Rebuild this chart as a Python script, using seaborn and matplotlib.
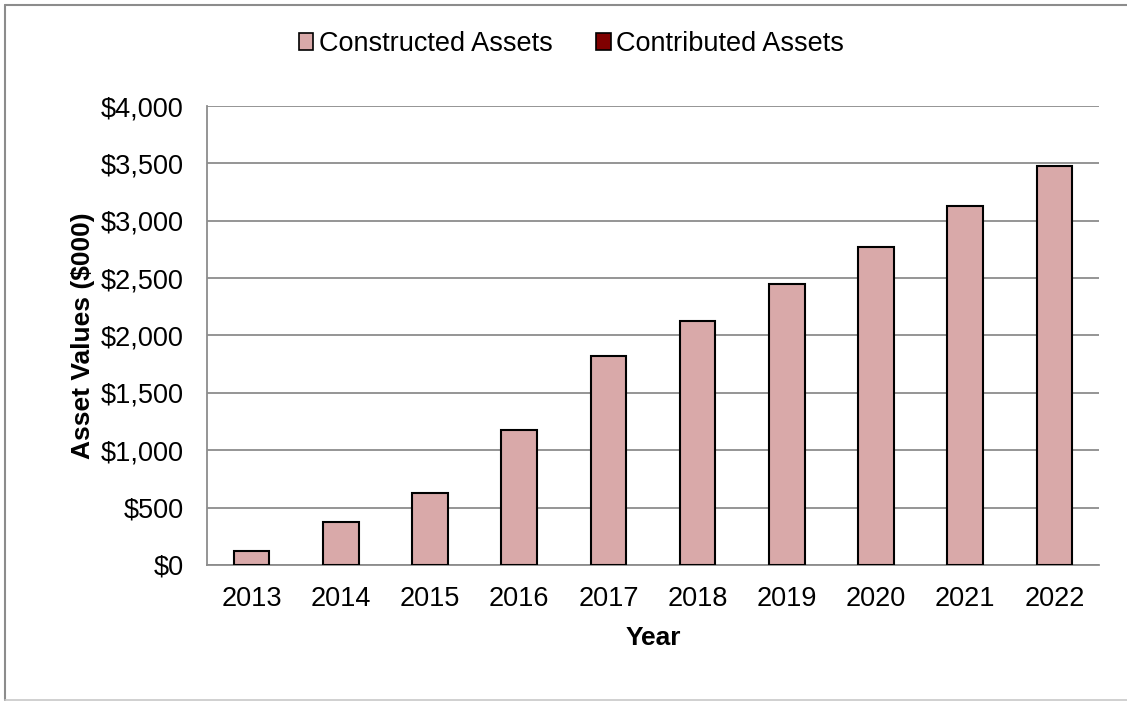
import matplotlib
matplotlib.use("Agg")
import matplotlib.pyplot as plt
import seaborn as sns
import pandas as pd
from matplotlib.patches import Patch
from matplotlib.lines import Line2D
from matplotlib.ticker import FuncFormatter, MultipleLocator

years = ["2013", "2014", "2015", "2016", "2017", "2018", "2019", "2020", "2021", "2022"]
constructed = [125, 375, 625, 1175, 1825, 2125, 2450, 2775, 3125, 3475]
contributed = [0, 0, 0, 0, 0, 0, 0, 0, 0, 0]

sns.set_theme(style="white")
plt.rcParams["font.family"] = ["Liberation Sans", "DejaVu Sans"]
plt.rcParams["text.color"] = "black"
plt.rcParams["axes.labelcolor"] = "black"

df = pd.DataFrame({"Year": years, "Constructed": constructed, "Contributed": contributed})

fig = plt.figure(figsize=(11.27, 7.02), dpi=100)
ax = fig.add_axes([0.1837, 0.1952, 0.7915, 0.6538])

c_constructed = "#d9a9a9"
c_contributed = "#7f0000"
grid_gray = "#8c8c8c"

sns.barplot(data=df, x="Year", y="Constructed", color=c_constructed, width=0.4,
            edgecolor="black", linewidth=1.5, saturation=1, ax=ax, zorder=3)
# Contributed assets stacked on top of constructed assets
ax.bar(range(len(years)), df["Contributed"], bottom=df["Constructed"], width=0.4,
       color=c_contributed, linewidth=0, zorder=3)

ax.set_ylim(0, 4000)
ax.set_xlim(-0.5, len(years) - 0.5)
ax.yaxis.set_major_locator(MultipleLocator(500))
ax.yaxis.set_major_formatter(FuncFormatter(lambda v, p: f"${v:,.0f}"))
ax.grid(axis="y", color=grid_gray, linewidth=1.3, zorder=0)
ax.set_axisbelow(True)

for s in ["top", "right"]:
    ax.spines[s].set_visible(False)
for s in ["bottom", "left"]:
    ax.spines[s].set_color(grid_gray)
    ax.spines[s].set_linewidth(1.3)

ax.tick_params(axis="both", labelsize=19.5, colors="black", length=0)
ax.tick_params(axis="y", pad=17)
ax.tick_params(axis="x", pad=15)
ax.set_xlabel("Year", fontsize=19, fontweight="bold", labelpad=10)
ax.set_ylabel("Asset Values ($000)", fontsize=19, fontweight="bold", labelpad=4)

handles = [Patch(facecolor=c_constructed, edgecolor="black", linewidth=1.2, label="Constructed Assets"),
           Patch(facecolor=c_contributed, edgecolor="black", linewidth=1.2, label="Contributed Assets")]
fig.legend(handles=handles, loc="center", bbox_to_anchor=(0.507, 0.937), ncol=2, frameon=False,
           fontsize=19.5, handlelength=0.55, handleheight=0.55, handletextpad=0.2, columnspacing=1.6)

# Outer chart border (top, left, bottom)
W, H = 1127, 702
fig.add_artist(Line2D((5 / W, 1.0), (1 - 5 / H, 1 - 5 / H), transform=fig.transFigure,
                      color=grid_gray, linewidth=1.5))
fig.add_artist(Line2D((5 / W, 5 / W), (2 / H, 1 - 5 / H), transform=fig.transFigure,
                      color=grid_gray, linewidth=1.5))
fig.add_artist(Line2D((5 / W, 1.0), (2 / H, 2 / H), transform=fig.transFigure,
                      color="#c8c8c8", linewidth=1.2))

fig.savefig("out.png", dpi=100)
